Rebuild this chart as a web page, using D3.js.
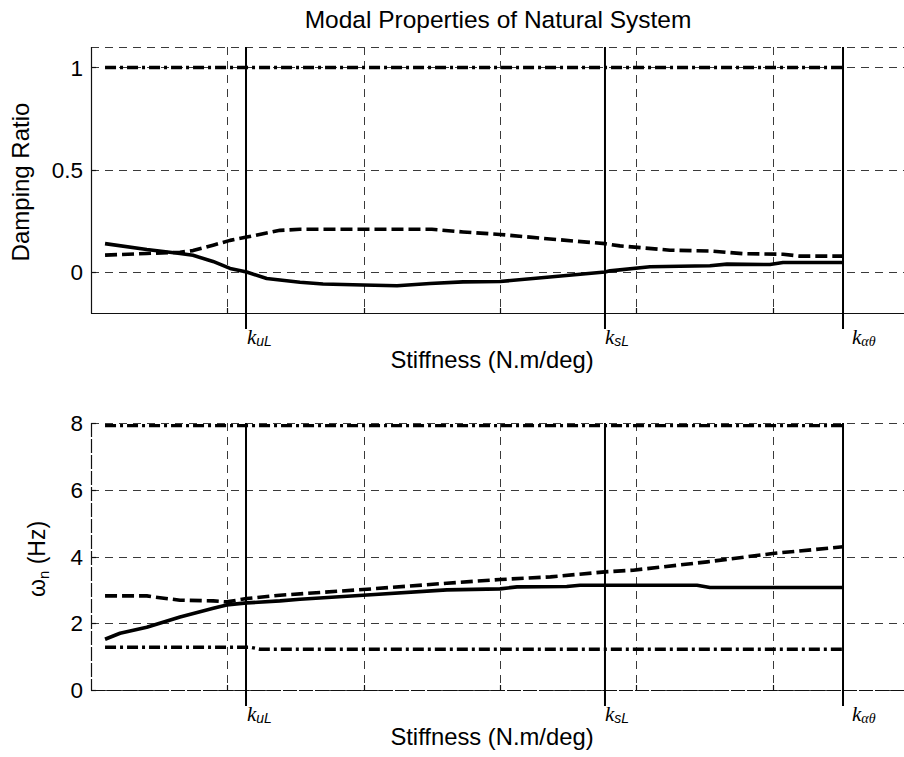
<!DOCTYPE html>
<html>
<head>
<meta charset="utf-8">
<script src="https://cdn.jsdelivr.net/npm/d3@7"></script>
<style>
  html, body { margin: 0; padding: 0; background: #fff; }
  svg { display: block; }
  text { font-family: "Liberation Sans", Arial, sans-serif; fill: #000; }
</style>
</head>
<body>
<svg id="chart" width="904" height="757"></svg>
<script>
// ---------------- DATA ----------------
const titleText = "Modal Properties of Natural System";
const xLabelText = "Stiffness (N.m/deg)";
const xGridTicks = [1, 2, 3, 4, 5];
const zetaTicks = [0, 0.5, 1];
const wnTicks = [0, 2, 4, 6, 8];

// stiffness reference marks
const kMarkNames = ["k", "k", "k"];
const kMarkSubs = ["uL", "sL", "\u03B1\u03B8"];
const kMarkX = [1.137, 3.77, 5.516];

// Damping ratio: mode 1 (solid), mode 2 (dashed), mode 3 (dash-dot)
const zetaSolid = [[0.103,0.139],[0.409,0.11],[0.653,0.091],[0.748,0.082],[0.895,0.052],[1.02,0.018],[1.142,0.0],[1.289,-0.031],[1.386,-0.039],[1.533,-0.05],[1.702,-0.058],[1.995,-0.063],[2.245,-0.067],[2.487,-0.056],[2.729,-0.048],[3.0,-0.046],[3.345,-0.025],[3.77,0.0],[3.807,0.006],[4.10,0.026],[4.54,0.031],[4.665,0.039],[4.98,0.037],[5.076,0.047],[5.516,0.047]];
const zetaDashed = [[0.103,0.083],[0.409,0.091],[0.653,0.097],[0.748,0.105],[0.895,0.131],[1.02,0.155],[1.142,0.171],[1.386,0.204],[1.533,0.209],[1.995,0.209],[2.5,0.209],[2.729,0.196],[3.0,0.184],[3.345,0.163],[3.77,0.139],[3.88,0.128],[4.247,0.107],[4.54,0.103],[4.78,0.09],[5.076,0.087],[5.2,0.078],[5.516,0.078]];
const zetaDashDot = [[0.103,1.0],[5.516,1.0]];

// Natural frequency (Hz)
const wnSolid = [[0.103,1.52],[0.213,1.70],[0.409,1.88],[0.653,2.19],[0.897,2.45],[0.995,2.55],[1.142,2.61],[1.386,2.67],[1.533,2.72],[1.995,2.84],[2.61,3.0],[3.0,3.03],[3.125,3.09],[3.49,3.10],[3.587,3.14],[4.445,3.14],[4.54,3.07],[5.516,3.07]];
const wnDashed = [[0.103,2.82],[0.409,2.82],[0.46,2.79],[0.653,2.69],[0.897,2.67],[0.995,2.64],[1.142,2.74],[1.386,2.84],[1.995,3.01],[2.61,3.20],[3.0,3.31],[3.37,3.39],[3.77,3.54],[3.977,3.59],[4.52,3.84],[5.0,4.09],[5.516,4.29]];
const wnDashDotLow = [[0.103,1.28],[1.17,1.28],[1.24,1.22],[5.516,1.22]];
const wnDashDotHigh = [[0.103,7.92],[5.516,7.92]];

// ---------------- DRAW ----------------
const svg = d3.select("#chart");
const x = d3.scaleLinear().domain([0, 6]).range([91, 909]);

const panels = [
  { top: 47, bottom: 313, domain: [-0.2, 1.1], ticks: zetaTicks,
    series: [[zetaDashDot, "dashdot"], [zetaDashed, "dashed"], [zetaSolid, "solid"]], axisDash: null, topDash: true },
  { top: 423, bottom: 690, domain: [0, 8], ticks: wnTicks,
    series: [[wnDashDotHigh, "dashdot"], [wnDashDotLow, "dashdot"], [wnDashed, "dashed"], [wnSolid, "solid"]], axisDash: "14,2", topDash: false }
];

const styles = {
  solid: { dash: null, w: 3.6 },
  dashed: { dash: "12,5", w: 3.6 },
  dashdot: { dash: "11,4,3,4", w: 3.4 }
};

panels.forEach((p, pi) => {
  const y = d3.scaleLinear().domain(p.domain).range([p.bottom, p.top]);
  const g = svg.append("g");

  // grid lines
  const gridColor = "#3a3a3a";
  g.selectAll(".vgrid").data(xGridTicks).join("line")
    .attr("x1", d => Math.round(x(d)) + 0.5).attr("x2", d => Math.round(x(d)) + 0.5)
    .attr("y1", p.top).attr("y2", p.bottom)
    .attr("stroke", gridColor).attr("stroke-width", 1).attr("stroke-dasharray", "8,6");
  g.selectAll(".hgrid").data(p.ticks).join("line")
    .attr("x1", x(0)).attr("x2", 909)
    .attr("y1", d => Math.round(y(d)) + 0.5).attr("y2", d => Math.round(y(d)) + 0.5)
    .attr("stroke", gridColor).attr("stroke-width", 1).attr("stroke-dasharray", "8,6");
  if (p.topDash) {
    g.append("line").attr("x1", x(0)).attr("x2", 909)
      .attr("y1", p.top + 0.5).attr("y2", p.top + 0.5)
      .attr("stroke", gridColor).attr("stroke-width", 1).attr("stroke-dasharray", "8,6");
  }

  // axes lines
  const axisColor = "#111";
  g.append("line").attr("x1", x(0) + 0.5).attr("x2", x(0) + 0.5)
    .attr("y1", p.top).attr("y2", p.bottom + 0.5)
    .attr("stroke", axisColor).attr("stroke-width", 1.2)
    .attr("stroke-dasharray", p.axisDash);
  g.append("line").attr("x1", x(0)).attr("x2", 909)
    .attr("y1", p.bottom + 0.5).attr("y2", p.bottom + 0.5)
    .attr("stroke", axisColor).attr("stroke-width", 1.2)
    .attr("stroke-dasharray", p.axisDash);

  // inward ticks
  g.selectAll(".yt").data(p.ticks).join("line")
    .attr("x1", x(0)).attr("x2", x(0) + 5)
    .attr("y1", d => Math.round(y(d)) + 0.5).attr("y2", d => Math.round(y(d)) + 0.5)
    .attr("stroke", axisColor).attr("stroke-width", 1.2);
  g.selectAll(".xt").data(xGridTicks).join("line")
    .attr("x1", d => Math.round(x(d)) + 0.5).attr("x2", d => Math.round(x(d)) + 0.5)
    .attr("y1", p.bottom).attr("y2", p.bottom - 5)
    .attr("stroke", axisColor).attr("stroke-width", 1.2);

  // y tick labels
  g.selectAll(".ytl").data(p.ticks).join("text")
    .attr("x", 83).attr("y", d => y(d)).attr("dy", "0.36em")
    .attr("text-anchor", "end").attr("font-size", 22.5)
    .text(d => d3.format("~g")(d));

  // k vertical lines
  g.selectAll(".kline").data(kMarkX).join("line")
    .attr("x1", d => x(d)).attr("x2", d => x(d))
    .attr("y1", pi === 0 ? p.top : y(8)).attr("y2", p.bottom + 16)
    .attr("stroke", "#000").attr("stroke-width", 2);

  // k labels
  const kOff = [1, 0, 9];
  kMarkX.forEach((kx, i) => {
    const t = g.append("text").attr("x", x(kx) + kOff[i]).attr("y", p.bottom + 31);
    t.append("tspan").text(kMarkNames[i])
      .style("font-family", "'Liberation Serif', 'Times New Roman', serif")
      .style("font-style", "italic").attr("font-size", 21);
    t.append("tspan").text(kMarkSubs[i]).attr("dy", 2)
      .style("font-family", i === 2 ? "'Liberation Serif', serif" : "'Liberation Sans', sans-serif")
      .style("font-style", "italic").attr("font-size", 14);
  });

  // series
  const line = d3.line().x(d => x(d[0])).y(d => y(d[1]));
  p.series.forEach(([data, kind]) => {
    const s = styles[kind];
    g.append("path").attr("d", line(data))
      .attr("fill", "none").attr("stroke", "#000")
      .attr("stroke-width", s.w)
      .attr("stroke-dasharray", s.dash)
      .attr("stroke-linejoin", "round");
  });

  // x label
  g.append("text").attr("x", 492).attr("y", p.bottom + 55)
    .attr("text-anchor", "middle").attr("font-size", 23.8).text(xLabelText);
});

// title
svg.append("text").attr("x", 498).attr("y", 28)
  .attr("text-anchor", "middle").attr("font-size", 24.5).text(titleText);

// y labels
svg.append("text").attr("transform", "translate(29,182) rotate(-90)")
  .attr("text-anchor", "middle").attr("font-size", 24).text("Damping Ratio");

const wl = svg.append("text").attr("transform", "translate(45,559) rotate(-90)")
  .attr("text-anchor", "middle").attr("font-size", 23);
wl.append("tspan").text("\u03C9");
wl.append("tspan").text("n").attr("font-size", 15).attr("dy", 4);
wl.append("tspan").text(" (Hz)").attr("dy", -4);
</script>
</body>
</html>
